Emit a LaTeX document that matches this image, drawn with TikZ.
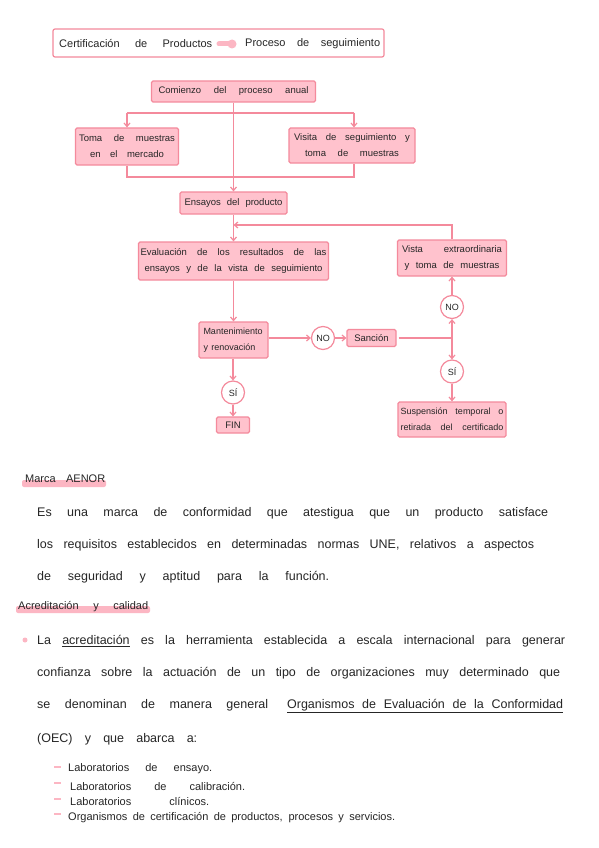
\documentclass[tikz,border=0pt]{standalone}
\usepackage{fontspec}
\setmainfont{Liberation Sans}
\usetikzlibrary{arrows.meta}
\definecolor{pinkb}{HTML}{F48A9C}
\definecolor{pinkf}{HTML}{FFC2CD}
\definecolor{pinkh}{HTML}{FCB6C3}
\definecolor{ink}{HTML}{262626}
\newcommand{\sline}[2]{\makebox[#1pt][s]{#2}}
\begin{document}
\begin{tikzpicture}[x=1pt,y=-1pt,
  box/.style={draw=pinkb, fill=pinkf, line width=1.2pt, rounded corners=1.5pt, inner sep=0pt,
              text=ink, font=\fontsize{9.5}{16}\selectfont, align=center},
  circ/.style={circle, draw=pinkb, fill=white, line width=1.2pt, minimum size=23pt, inner sep=0pt,
              font=\fontsize{9}{10}\selectfont, text=ink},
  conn/.style={draw=pinkb, line width=1.2pt},
  arr/.style={conn, -{Straight Barb[length=3.5pt,width=6pt]}},
  txt/.style={inner sep=0pt, text=ink, anchor=west, font=\fontsize{12.5}{14}\selectfont},
  item/.style={txt, font=\fontsize{11}{12}\selectfont},
  head/.style={txt, font=\fontsize{11}{12}\selectfont},
  hl/.style={fill=pinkh, rounded corners=2pt}
]
\fill[white] (0,0) rectangle (599,848);
\useasboundingbox (0,0) rectangle (599,848);

% title
\node[draw=pinkb, line width=1.2pt, rounded corners=2pt, minimum width=331pt, minimum height=28pt, inner sep=0pt] (title) at (218.5,43) {};
\node[head] (t1) at (59,44) {\sline{153}{Certificación de Productos}};
\node[head] (t2) at (245,44) {\sline{135}{Proceso de seguimiento}};
\draw[pinkh, line width=5pt, line cap=round] (219,44) -- (229,44);
\fill[pinkh] (232,44) circle (4.5);

% flow boxes
\node[box, minimum width=164pt, minimum height=21pt] (com) at (233.5,91.5) {\sline{150}{Comienzo del proceso anual}};
\node[box, minimum width=103pt, minimum height=37pt] (toma) at (127,146.5) {\sline{96}{Toma de muestras}\\\sline{74}{en el mercado}};
\node[box, minimum width=126pt, minimum height=35pt] (vista) at (352,145.5) {\sline{116}{Visita de seguimiento y}\\\sline{94}{toma de muestras}};
\node[box, minimum width=107pt, minimum height=22pt] (ens) at (233.5,203) {\sline{98}{Ensayos del producto}};
\node[box, minimum width=190pt, minimum height=38pt] (eval) at (233.5,261) {\sline{186}{Evaluación de los resultados de las}\\\sline{178}{ensayos y de la vista de seguimiento}};
\node[box, minimum width=109pt, minimum height=36pt] (vex) at (452,258) {\sline{100}{Vista extraordinaria}\\\sline{95}{y toma de muestras}};
\node[box, minimum width=69pt, minimum height=36pt, align=left, font=\fontsize{9}{16}\selectfont] (mant) at (233.5,340) {\sline{60}{Mantenimiento}\\\sline{52}{y renovación}};
\node[box, minimum width=49pt, minimum height=17pt] (san) at (371.5,338) {Sanción};
\node[box, minimum width=108pt, minimum height=35pt, font=\fontsize{9}{16}\selectfont] (susp) at (452,419.5) {\sline{103}{Suspensión temporal o}\\\sline{103}{retirada del certificado}};
\node[box, minimum width=33pt, minimum height=16pt] (fin) at (233,425) {FIN};

% circles
\node[circ] (no1) at (323,338) {NO};
\node[circ] (no2) at (452,307) {NO};
\node[circ] (si1) at (233,392.5) {SÍ};
\node[circ] (si2) at (452,371.5) {SÍ};

% connectors
\coordinate (b1) at (127,113);
\coordinate (b2) at (354,113);
\coordinate (j1) at (127,177);
\coordinate (j2) at (354,177);
\coordinate (lp) at (233.5,225);
\coordinate (jn) at (452,338);
\draw[arr] (com.south) -- (ens.north);
\draw[conn] (b1) -- (b2);
\draw[arr] (b1) -- (toma.north);
\draw[arr] (b2) -- (b2 |- vista.north);
\draw[conn] (toma.south) -- (j1) -- (j2) -- (j2 |- vista.south);
\draw[arr] (ens.south) -- (eval.north);
\draw[arr] (vex.north) |- (lp);
\draw[arr] (eval.south) -- (mant.north);
\draw[arr] (mant.east |- no1.west) -- (no1.west);
\draw[arr] (no1.east) -- (san.west);
\draw[conn] (san.east) ++(2,0) -- (jn);
\draw[arr] (jn) -- (no2.south);
\draw[arr] (jn) -- (si2.north);
\draw[arr] (no2.north) -- (vex.south);
\draw[arr] (si2.south) -- (susp.north);
\draw[arr] (mant.south -| si1.north) -- (si1.north);
\draw[arr] (si1.south) -- (fin.north);

% Marca AENOR
\fill[hl] (22,480) rectangle (106,487);
\node[head] (h1) at (25,479) {\sline{80}{Marca AENOR}};
\node[txt] (p1) at (37,513) {\sline{511}{Es una marca de conformidad que atestigua que un producto satisface}};
\node[txt] (p2) at (37,545) {\sline{497}{los requisitos establecidos en determinadas normas UNE, relativos a aspectos}};
\node[txt] (p3) at (37,577) {\sline{292}{de seguridad y aptitud para la función.}};

% Acreditación y calidad
\fill[hl] (16,606) rectangle (150,613);
\node[head] (h2) at (18,607) {\sline{130}{Acreditación y calidad}};
\fill[pinkh] (25,640) circle (2.5);
\node[txt] (a1) at (37,641) {\sline{528}{La \underline{acreditación} es la herramienta establecida a escala internacional para generar}};
\node[txt] (a2) at (37,673) {\sline{523}{confianza sobre la actuación de un tipo de organizaciones muy determinado que}};
\node[txt] (a3) at (37,706) {\sline{231}{se denominan de manera general}\hspace{19pt}\underline{\sline{276}{Organismos de Evaluación de la Conformidad}}};
\node[txt] (a4) at (37,739) {\sline{160}{(OEC) y que abarca a:}};

% list
\foreach \yy in {767,783,799,814} \draw[pinkh, line width=2.5pt] (54,\yy) -- (61,\yy);
\node[item] (i1) at (68,769) {\sline{144}{Laboratorios de ensayo.}};
\node[item] (i2) at (70,786) {\sline{175}{Laboratorios de calibración.}};
\node[item] (i3) at (70,801) {\sline{139}{Laboratorios clínicos.}};
\node[item] (i4) at (68,818) {\sline{327}{Organismos de certificación de productos, procesos y servicios.}};
\end{tikzpicture}
\end{document}
